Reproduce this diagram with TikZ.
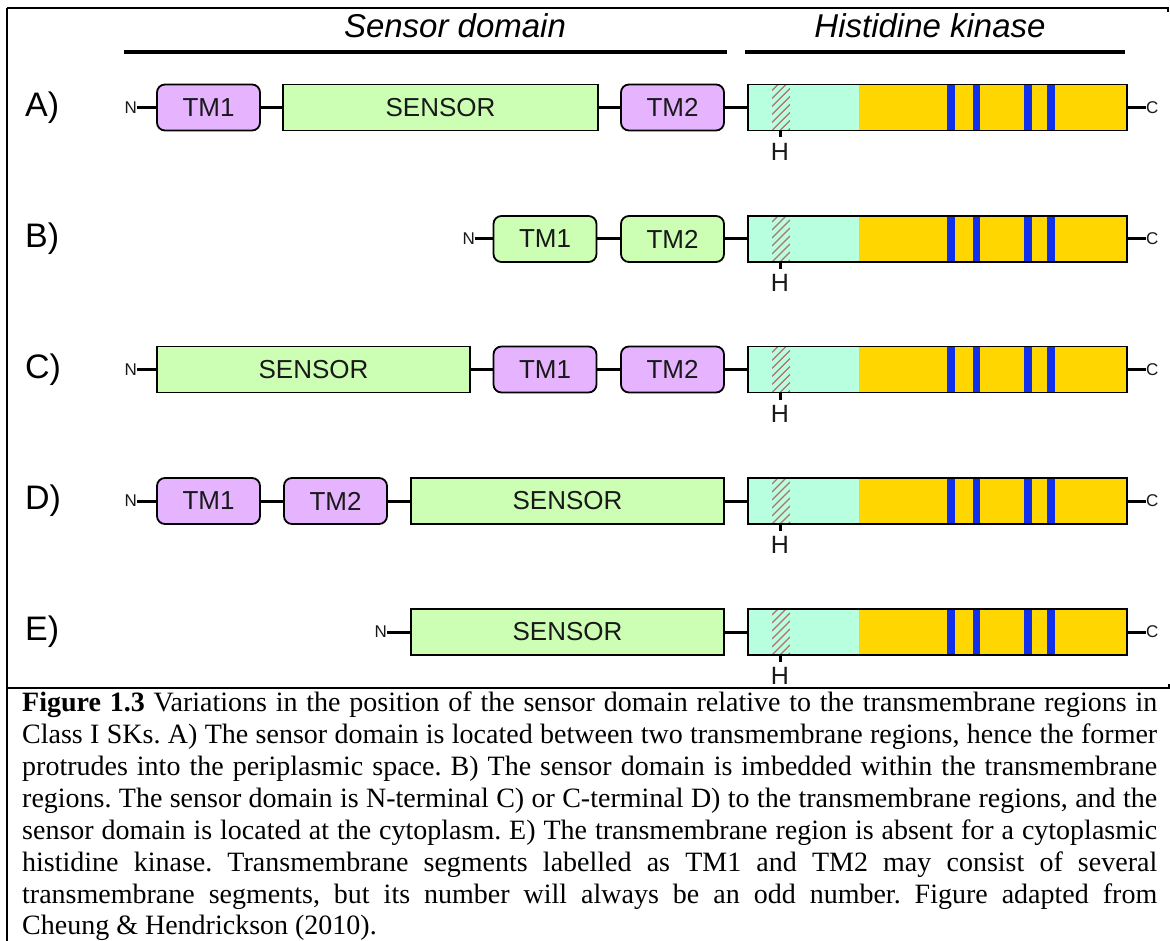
\documentclass[tikz,border=0pt]{standalone}
\usepackage{fontspec}
\setmainfont{Liberation Serif}
\newfontfamily\arialfont{Liberation Sans}
\frenchspacing

\definecolor{tmpurple}{RGB}{230,180,255}
\definecolor{sensgreen}{RGB}{204,255,179}
\definecolor{hkcyan}{RGB}{183,255,222}
\definecolor{hkyellow}{RGB}{255,214,0}
\definecolor{hkblue}{RGB}{16,48,235}
\definecolor{hatchred}{RGB}{176,112,112}
\definecolor{ink}{RGB}{25,25,25}

\tikzset{
  dom/.style={draw=black, line width=1.8pt, minimum height=46pt, inner sep=0pt,
    font=\arialfont\fontsize{26}{30}\selectfont, text=ink},
  tmbox/.style={dom, rounded corners=8pt, fill=tmpurple, minimum width=103pt},
  tmgreen/.style={dom, rounded corners=8pt, fill=sensgreen, minimum width=103pt},
  sensorbox/.style={dom, fill=sensgreen},
  hkframe/.style={draw=black, line width=1.8pt, minimum height=46pt, minimum width=379pt, inner sep=0pt},
  link/.style={line width=3pt},
  headline/.style={line width=3.5pt},
  frameline/.style={line width=1.4pt},
  term/.style={inner sep=0pt, font=\arialfont\fontsize{17}{20}\selectfont, text=ink},
  rowlabel/.style={inner sep=0pt, anchor=west, font=\arialfont\fontsize{34}{40}\selectfont},
  heading/.style={inner sep=0pt, anchor=base, font=\arialfont\itshape\fontsize{33}{40}\selectfont},
  hlabel/.style={inner sep=0pt, font=\arialfont\fontsize{25}{30}\selectfont, text=ink},
  capline/.style={inner sep=0pt, anchor=base west, font=\fontsize{28}{32.2}\selectfont},
}

% Histidine kinase domain of one row: #1 row prefix, #2 row centre
\newcommand\hkdomain[2]{%
  \fill[hkcyan] (748,{#2-23}) rectangle (859,{#2+23});
  \fill[hkyellow] (859,{#2-23}) rectangle (1127,{#2+23});
  \foreach \sx/\ex in {947/955, 973/980, 1024/1032, 1047/1055}
    \fill[hkblue] (\sx,{#2-23}) rectangle (\ex,{#2+23});
  \begin{scope}
    \clip (772,{#2-23}) rectangle (790,{#2+23});
    \foreach \k in {-3,...,8}
      \draw[hatchred, line width=1.2pt] (772,{#2+23-8*\k}) -- ++(18,-18);
  \end{scope}
  \node[hkframe] (#1hk) at (937.5,#2) {};
  \coordinate (#1his) at (780,{#2+23});
  \draw[line width=3pt] (#1his) -- ++(0,7);
  \node[hlabel] (#1H) at (780,{#2+44}) {H};
  \node[term, anchor=west] (#1C) at (1146,#2) {C};
  \draw[link] (#1hk.east) -- (#1C.west);
}

\begin{document}
\begin{tikzpicture}[x=1pt, y=-1pt]
\useasboundingbox (0,0) rectangle (1170,941);
\fill[white] (0,0) rectangle (1170,941);

% frame of the figure
\coordinate (ftl) at (7,8);
\coordinate (ftr) at (1168,8);
\coordinate (fbl) at (7,941);
\coordinate (sepl) at (7,688);
\coordinate (sepr) at (1169,688);
\draw[frameline] (ftl) -- (ftr) -- ++(0,4);
\draw[line width=2.2pt] (ftl) -- (fbl);
\draw[frameline] (sepl) -- (sepr) -- ++(0,-4);

% headings
\node[heading] (sdtitle) at (455,38) {Sensor domain};
\node[heading] (hktitle) at (930,38) {Histidine kinase};
\coordinate (sdl) at (124,52); \coordinate (sdr) at (727,52);
\coordinate (hkl) at (745,52); \coordinate (hkr) at (1125,52);
\draw[headline] (sdl) -- (sdr);
\draw[headline] (hkl) -- (hkr);

% row A
\node[rowlabel] (la) at (25,107.5) {A)};
\node[term, anchor=east] (aN) at (137,107.5) {N};
\node[tmbox] (atm1) at (208.5,107.5) {TM1};
\node[sensorbox, minimum width=315pt] (asens) at (440.5,107.5) {SENSOR};
\node[tmbox] (atm2) at (672.5,107.5) {TM2};
\hkdomain{a}{107.5}
\draw[link] (aN.east) -- (atm1.west);
\draw[link] (atm1.east) -- (asens.west);
\draw[link] (asens.east) -- (atm2.west);
\draw[link] (atm2.east) -- (ahk.west);

% row B
\node[rowlabel] (lb) at (25,239) {B)};
\node[term, anchor=east] (bN) at (475,239) {N};
\node[tmgreen] (btm1) at (545,239) {TM1};
\node[tmgreen] (btm2) at (672.5,239) {TM2};
\hkdomain{b}{239}
\draw[link] (bN.east) -- (btm1.west);
\draw[link] (btm1.east) -- (btm2.west);
\draw[link] (btm2.east) -- (bhk.west);

% row C
\node[rowlabel] (lc) at (25,369.5) {C)};
\node[term, anchor=east] (cN) at (137,369.5) {N};
\node[sensorbox, minimum width=313pt] (csens) at (313.5,369.5) {SENSOR};
\node[tmbox] (ctm1) at (545,369.5) {TM1};
\node[tmbox] (ctm2) at (672.5,369.5) {TM2};
\hkdomain{c}{369.5}
\draw[link] (cN.east) -- (csens.west);
\draw[link] (csens.east) -- (ctm1.west);
\draw[link] (ctm1.east) -- (ctm2.west);
\draw[link] (ctm2.east) -- (chk.west);

% row D
\node[rowlabel] (ld) at (25,501) {D)};
\node[term, anchor=east] (dN) at (137,501) {N};
\node[tmbox] (dtm1) at (208.5,501) {TM1};
\node[tmbox] (dtm2) at (335.5,501) {TM2};
\node[sensorbox, minimum width=313pt] (dsens) at (567.5,501) {SENSOR};
\hkdomain{d}{501}
\draw[link] (dN.east) -- (dtm1.west);
\draw[link] (dtm1.east) -- (dtm2.west);
\draw[link] (dtm2.east) -- (dsens.west);
\draw[link] (dsens.east) -- (dhk.west);

% row E
\node[rowlabel] (le) at (25,632) {E)};
\node[term, anchor=east] (eN) at (387,632) {N};
\node[sensorbox, minimum width=313pt] (esens) at (567.5,632) {SENSOR};
\hkdomain{e}{632}
\draw[link] (eN.east) -- (esens.west);
\draw[link] (esens.east) -- (ehk.west);

% caption
\node[capline] (cap1) at (22,711) {\hbox to 1135pt{\textbf{Figure 1.3} Variations in the position of the sensor domain relative to the transmembrane regions in}};
\node[capline] (cap2) at (22,743) {\hbox to 1135pt{Class I SKs. A) The sensor domain is located between two transmembrane regions, hence the former}};
\node[capline] (cap3) at (22,775) {\hbox to 1135pt{protrudes into the periplasmic space. B) The sensor domain is imbedded within the transmembrane}};
\node[capline] (cap4) at (22,807) {\hbox to 1135pt{regions. The sensor domain is N-terminal C) or C-terminal D) to the transmembrane regions, and the}};
\node[capline] (cap5) at (22,839) {\hbox to 1135pt{sensor domain is located at the cytoplasm. E) The transmembrane region is absent for a cytoplasmic}};
\node[capline] (cap6) at (22,871) {\hbox to 1135pt{histidine kinase. Transmembrane segments labelled as TM1 and TM2 may consist of several}};
\node[capline] (cap7) at (22,903) {\hbox to 1135pt{transmembrane segments, but its number will always be an odd number. Figure adapted from}};
\node[capline] (cap8) at (22,934) {Cheung \& Hendrickson (2010).};
\end{tikzpicture}
\end{document}
